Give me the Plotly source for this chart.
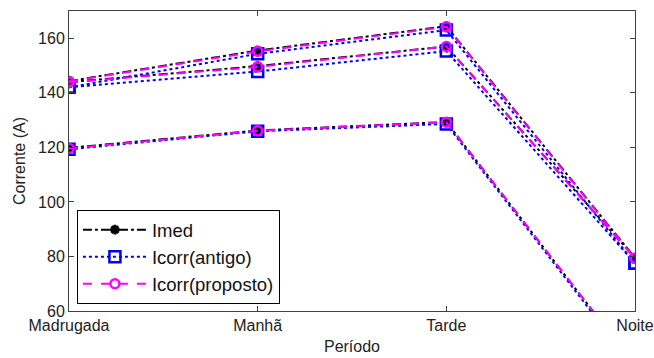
import plotly.graph_objects as go

periods = ["Madrugada", "Manhã", "Tarde", "Noite"]

imed_g1 = [144.3, 155.5, 164.4, 79.5]
imed_g2 = [144.0, 149.8, 157.0, 79.5]
imed_g3 = [119.8, 126.2, 129.3, 40.0]

antigo_g1 = [142.0, 154.3, 163.0, 77.5]
antigo_g2 = [142.0, 147.8, 155.3, 77.5]
antigo_g3 = [119.3, 125.9, 128.6, 39.0]

proposto_g1 = [144.2, 155.2, 164.2, 79.3]
proposto_g2 = [143.8, 149.5, 157.0, 79.3]
proposto_g3 = [119.6, 126.1, 129.2, 40.0]

x = list(range(len(periods)))

fig = go.Figure()

series = [
    ("Imed", [imed_g1, imed_g2, imed_g3],
     dict(color="black", width=2, dash="dashdot"),
     dict(symbol="asterisk-open", size=8, color="black", line=dict(color="black", width=3))),
    ("Icorr(antigo)", [antigo_g1, antigo_g2, antigo_g3],
     dict(color="#0000ff", width=2, dash="dot"),
     dict(symbol="square-open", size=11, color="#0000ff", line=dict(color="#0000ff", width=2.5))),
    ("Icorr(proposto)", [proposto_g1, proposto_g2, proposto_g3],
     dict(color="#ff00ff", width=2, dash="dash"),
     dict(symbol="circle-open", size=9, color="#ff00ff", line=dict(color="#ff00ff", width=2.5))),
]

for name, groups, line, marker in series:
    for i, g in enumerate(groups):
        fig.add_trace(go.Scatter(
            x=x, y=g, mode="lines+markers", name=name,
            legendgroup=name, showlegend=(i == 0),
            line=line, marker=marker, cliponaxis=True,
        ))

FONT = "Liberation Sans, Arial, sans-serif"
axis_common = dict(
    showline=True, linecolor="#404040", linewidth=1, mirror="allticks",
    ticks="inside", ticklen=5, tickcolor="#404040", showgrid=False, zeroline=False,
    tickfont=dict(family=FONT, size=16, color="#222"), automargin=False,
)

fig.update_xaxes(
    range=[0, 3], tickmode="array", tickvals=x, ticktext=periods,
    title=dict(text="Período", font=dict(family=FONT, size=16, color="#222"), standoff=7),
    **axis_common,
)
fig.update_yaxes(
    range=[60, 170], tickvals=[60, 80, 100, 120, 140, 160],
    title=dict(text="Corrente (A)", font=dict(family=FONT, size=16, color="#222"), standoff=8),
    **axis_common,
)

fig.update_layout(
    width=654, height=358,
    margin=dict(l=69, r=19, t=11, b=47),
    paper_bgcolor="white", plot_bgcolor="white",
    legend=dict(
        x=0.014, y=0.023, xanchor="left", yanchor="bottom",
        bgcolor="white", bordercolor="black", borderwidth=1,
        font=dict(family=FONT, size=18.5, color="#111"),
        itemwidth=64, tracegroupgap=0,
    ),
    showlegend=True,
)

fig.write_html(
    "out.html",
    config={"displayModeBar": False},
    post_script="document.body.style.margin='0';document.body.style.overflow='hidden';",
)
